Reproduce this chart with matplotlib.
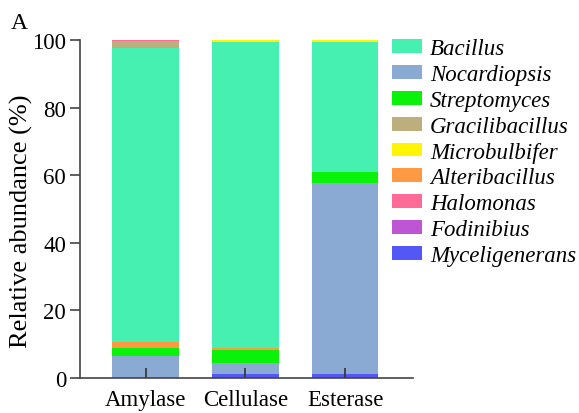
import numpy as np
import matplotlib
matplotlib.use("Agg")
import matplotlib.pyplot as plt
from matplotlib.patches import Patch

plt.rcParams['font.family'] = 'serif'
plt.rcParams['font.serif'] = ['Liberation Serif', 'DejaVu Serif']

samples = ["Amylase", "Cellulase", "Esterase"]

# genus values per sample (relative abundance %)
myceligenerans = [0.0, 1.2, 1.0]
nocardiopsis = [6.6, 3.3, 56.6]
streptomyces = [2.2, 3.6, 3.3]
fodinibius = [0.0, 0.0, 0.0]
alteribacillus = [1.9, 0.7, 0.0]
bacillus = [86.8, 90.7, 38.6]
gracilibacillus = [2.1, 0.0, 0.0]
microbulbifer = [0.0, 0.5, 0.5]
halomonas = [0.4, 0.0, 0.0]

# bottom -> top stacking order
stack = [
    ("Myceligenerans", myceligenerans, "#5257F5"),
    ("Nocardiopsis", nocardiopsis, "#8BAAD3"),
    ("Streptomyces", streptomyces, "#0AF20A"),
    ("Fodinibius", fodinibius, "#BE55D2"),
    ("Alteribacillus", alteribacillus, "#FF9A42"),
    ("Bacillus", bacillus, "#45F0B0"),
    ("Gracilibacillus", gracilibacillus, "#BCAF7D"),
    ("Microbulbifer", microbulbifer, "#FFF500"),
    ("Halomonas", halomonas, "#FF6A96"),
]
legend_order = ["Bacillus", "Nocardiopsis", "Streptomyces", "Gracilibacillus",
                "Microbulbifer", "Alteribacillus", "Halomonas", "Fodinibius",
                "Myceligenerans"]

fig = plt.figure(figsize=(5.79, 4.14), dpi=100)
ax = fig.add_axes([0.138, 0.085, 0.575, 0.816])

x = np.arange(len(samples))
bottom = np.zeros(len(samples))
colors = {}
for name, vals, col in stack:
    vals = np.array(vals)
    ax.bar(x, vals, bottom=bottom, width=0.67, color=col, linewidth=0)
    bottom += vals
    colors[name] = col

ax.set_xlim(-0.66, 2.68)
ax.set_ylim(0, 100)
ax.set_yticks([0, 20, 40, 60, 80, 100])
ax.set_xticks(x)
ax.set_xticklabels(samples, fontsize=16.5)
ax.tick_params(axis='y', direction='out', length=7, width=1.2, labelsize=16.5, color='#444444', pad=3)
ax.tick_params(axis='x', direction='in', length=7, width=1.2, color='#333333', pad=8)
ax.set_ylabel("Relative abundance (%)", fontsize=19)
ax.yaxis.set_label_coords(-0.14, 0.465)
for s in ['top', 'right']:
    ax.spines[s].set_visible(False)
for s in ['left', 'bottom']:
    ax.spines[s].set_color('#444444')
    ax.spines[s].set_linewidth(1.2)

handles = [Patch(facecolor=colors[n], edgecolor='none') for n in legend_order]
leg = fig.legend(handles, legend_order, loc='upper left', bbox_to_anchor=(0.677, 0.905),
                 frameon=False, prop={'style': 'italic', 'size': 16.5},
                 borderpad=0, borderaxespad=0,
                 handlelength=1.3, handleheight=0.55, handletextpad=0.35, labelspacing=0.21)

fig.text(0.019, 0.93, "A", fontsize=17)

fig.savefig("out.png", dpi=100)
